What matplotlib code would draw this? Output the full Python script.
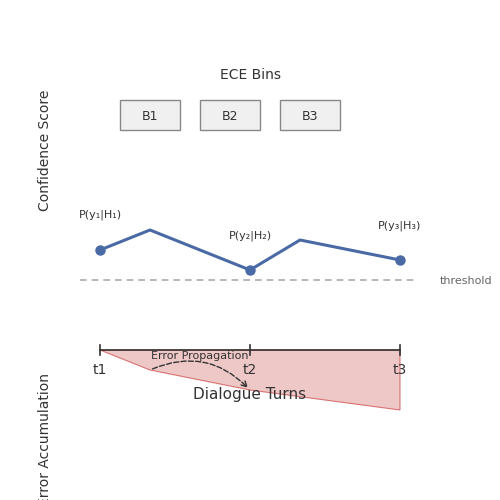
import matplotlib
matplotlib.use("Agg")
import matplotlib.pyplot as plt
from matplotlib.patches import Rectangle, Polygon, FancyArrowPatch

bins = ["B1", "B2", "B3"]
bin_x = [120, 200, 280]
conf_x = [100, 150, 250, 300, 400]
conf_y = [250, 230, 270, 240, 260]
marker_idx = [0, 2, 4]
prob_labels = ["P(y₁|H₁)", "P(y₂|H₂)", "P(y₃|H₃)"]
prob_label_y = [215, 236, 226]
turns = ["t1", "t2", "t3"]
turn_x = [100, 250, 400]
err_x = [100, 150, 250, 400, 400]
err_y = [350, 370, 390, 410, 350]

fig = plt.figure(figsize=(5, 5), dpi=100)
ax = fig.add_axes([0, 0, 1, 1])
ax.set_xlim(0, 500)
ax.set_ylim(500, 0)
ax.axis("off")

ax.text(250, 75, "ECE Bins", ha="center", va="center", fontsize=10, color="#333")
for b, x in zip(bins, bin_x):
    ax.add_patch(Rectangle((x, 100), 60, 30, facecolor="#f0f0f0", edgecolor="#888", lw=1))
    ax.text(x + 30, 116, b, ha="center", va="center", fontsize=9, color="#333")

ax.text(45, 150, "Confidence Score", rotation=90, ha="center", va="center", fontsize=10, color="#333")

ax.add_patch(Polygon(list(zip(err_x, err_y)), closed=True, facecolor="#e8b0b0", alpha=0.7,
                     edgecolor="#cc4444", lw=0.8))

ax.plot(conf_x, conf_y, color="#4a6aa5", lw=2.2, zorder=3)
ax.plot([conf_x[i] for i in marker_idx], [conf_y[i] for i in marker_idx], "o",
        color="#4a6aa5", ms=6.5, zorder=4)
for i, lab, ly in zip(marker_idx, prob_labels, prob_label_y):
    ax.text(conf_x[i], ly, lab, ha="center", va="center", fontsize=8, color="#333")

ax.plot([80, 415], [280, 280], ls=(0, (4, 3)), color="#aaa", lw=1.2)
ax.text(440, 281, "threshold", ha="left", va="center", fontsize=8, color="#666")

ax.plot([100, 400], [350, 350], color="#333", lw=1.2, zorder=3)
for lab, x in zip(turns, turn_x):
    ax.plot([x, x], [345, 355], color="#333", lw=1.2, zorder=3)
    ax.text(x, 370, lab, ha="center", va="center", fontsize=10, color="#333")
ax.text(250, 394, "Dialogue Turns", ha="center", va="center", fontsize=11, color="#333")

ax.text(200, 356, "Error Propagation", ha="center", va="center", fontsize=8, color="#333")
ax.add_patch(FancyArrowPatch((150, 370), (250, 390), connectionstyle="arc3,rad=-0.35",
                             arrowstyle="->", mutation_scale=10, ls="--", color="#333", lw=1))

ax.text(45, 440, "Error Accumulation", rotation=90, ha="center", va="center", fontsize=10, color="#333")

fig.savefig("out.png", dpi=100)
